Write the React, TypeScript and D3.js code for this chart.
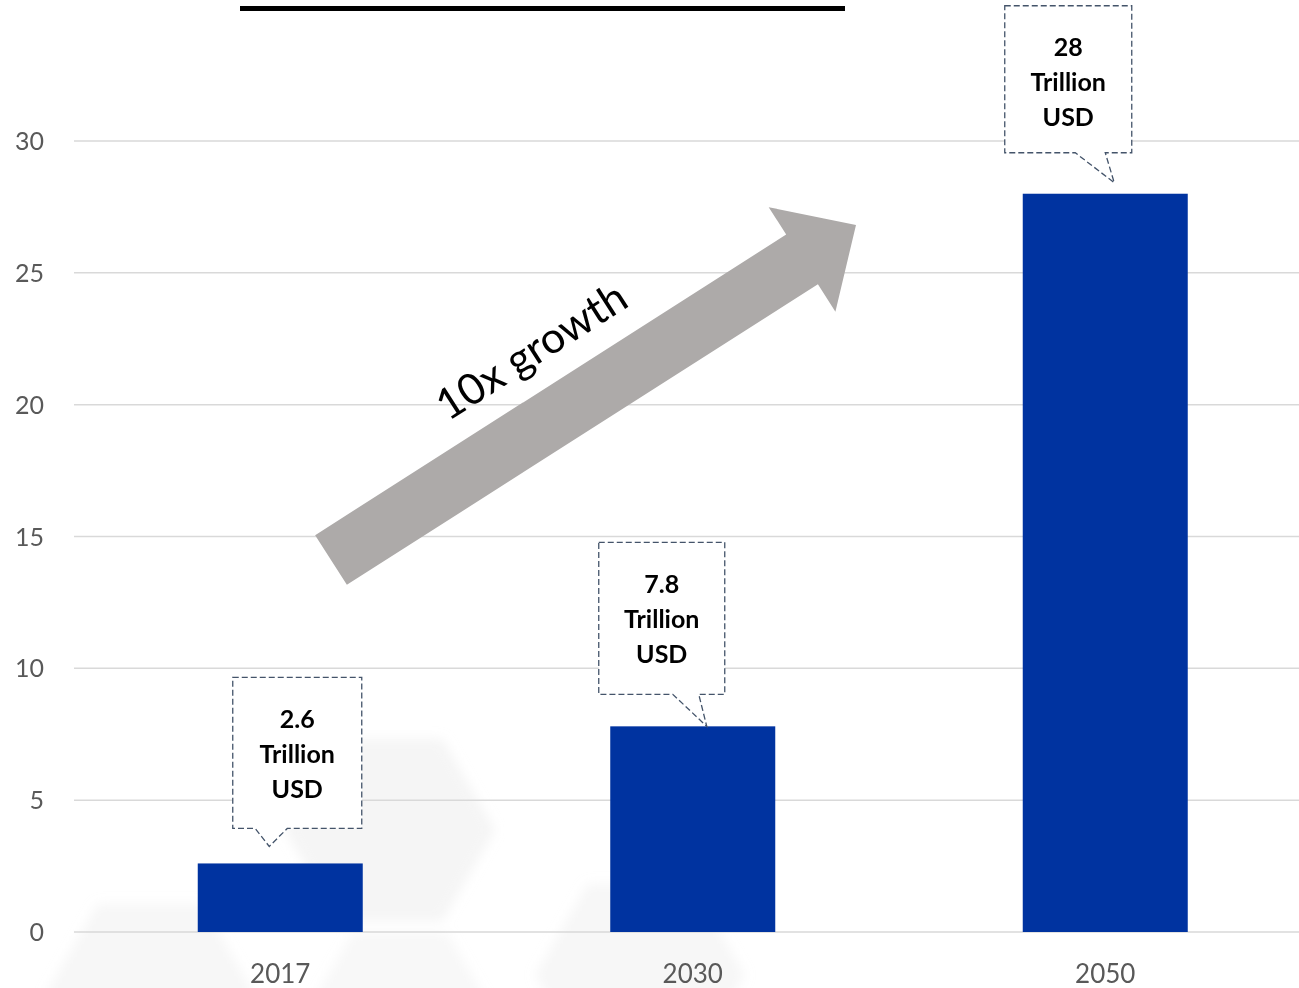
import React, { useEffect } from 'react';
import * as d3 from 'd3';

const years = ['2017', '2030', '2050'];
const values = [2.6, 7.8, 28];
const calloutLines = [
  ['2.6', 'Trillion', 'USD'],
  ['7.8', 'Trillion', 'USD'],
  ['28', 'Trillion', 'USD'],
];
const yTicks = [0, 5, 10, 15, 20, 25, 30];
const arrowLabel = '10x growth';

// callout box offsets relative to bar center / bar top (pixels)
const calloutLayout = [
  { dx: 17, boxW: 129, boxH: 151, gap: 35, tipDx: -28, tipDy: 18, baseOff: 14, baseW: 32 },
  { dx: -31, boxW: 126, boxH: 152, gap: 32, tipDx: 45, tipDy: 32, baseOff: 34, baseW: 26 },
  { dx: -37, boxW: 127, boxH: 147, gap: 41, tipDx: 46, tipDy: 30, baseOff: 39, baseW: 30 },
];

const W = 1299;
const H = 988;
const font = 'Lato, "Open Sans", sans-serif';

export default function App() {
  useEffect(() => {
    document.body.style.margin = '0';
  }, []);

  const x = d3.scaleBand<string>().domain(years).range([74, 1311.5]).paddingInner(0.6).paddingOuter(0.3);
  const y = d3.scaleLinear().domain([0, 30]).range([932, 141]);

  // arrow geometry
  const tail = [331, 560];
  const tip = [856, 225];
  const ang = Math.atan2(tip[1] - tail[1], tip[0] - tail[0]);
  const len = Math.hypot(tip[0] - tail[0], tip[1] - tail[1]);
  const shaftW = 59;
  const headW = 124;
  const headL = 64;
  const arrowPath = d3.path();
  arrowPath.moveTo(0, -shaftW / 2);
  arrowPath.lineTo(len - headL, -shaftW / 2);
  arrowPath.lineTo(len - headL, -headW / 2);
  arrowPath.lineTo(len, 0);
  arrowPath.lineTo(len - headL, headW / 2);
  arrowPath.lineTo(len - headL, shaftW / 2);
  arrowPath.lineTo(0, shaftW / 2);
  arrowPath.closePath();

  const hex = (cx: number, cy: number, r: number) =>
    d3.range(6).map((i) => {
      const a = (Math.PI / 3) * i;
      return [cx + r * Math.cos(a), cy + r * Math.sin(a)];
    });

  const hexes = [
    { cx: 390, cy: 830, r: 105, o: 0.35 },
    { cx: 640, cy: 975, r: 105, o: 0.3 },
    { cx: 150, cy: 995, r: 105, o: 0.3 },
    { cx: 400, cy: 1015, r: 95, o: 0.25 },
  ];

  return (
    <svg width={W} height={H} style={{ position: 'absolute', left: 0, top: 0, background: '#fff' }}>
      <defs>
        <filter id="blur" x="-30%" y="-30%" width="160%" height="160%">
          <feGaussianBlur stdDeviation="6" />
        </filter>
        <clipPath id="clip">
          <rect x={0} y={0} width={W} height={H} />
        </clipPath>
      </defs>

      {/* faint background hexagons */}
      <g filter="url(#blur)">
        {hexes.map((h, i) => (
          <polygon
            key={i}
            points={hex(h.cx, h.cy, h.r).map((p) => p.join(',')).join(' ')}
            fill="#e3e3e3"
            opacity={h.o}
          />
        ))}
      </g>

      {/* title underline (title text cropped out) */}
      <line x1={240} x2={845} y1={8.5} y2={8.5} stroke="#000" strokeWidth={5} />

      {/* grid + y labels */}
      {yTicks.map((t) => (
        <g key={t}>
          <line x1={74} x2={W} y1={y(t)} y2={y(t)} stroke="#d9d9d9" strokeWidth={1.5} />
          <text
            x={44}
            y={y(t)}
            dy="0.36em"
            textAnchor="end"
            fontFamily={font}
            fontSize={25}
            fill="#595959"
          >
            {t}
          </text>
        </g>
      ))}

      {/* bars */}
      <g clipPath="url(#clip)">
        {years.map((yr, i) => (
          <rect
            key={yr}
            x={x(yr)}
            y={y(values[i])}
            width={x.bandwidth()}
            height={y(0) - y(values[i])}
            fill="#0033a0"
          />
        ))}
      </g>

      {/* x labels */}
      {years.map((yr) => (
        <text
          key={yr}
          x={(x(yr) as number) + x.bandwidth() / 2}
          y={983}
          textAnchor="middle"
          fontFamily={font}
          fontSize={26}
          fill="#595959"
        >
          {yr}
        </text>
      ))}

      {/* growth arrow */}
      <g transform={`translate(${tail[0]},${tail[1]}) rotate(${(ang * 180) / Math.PI})`}>
        <path d={arrowPath.toString()} fill="#adaaa9" />
        <text
          x={len * 0.5 - 30}
          y={-shaftW / 2 - 24}
          textAnchor="middle"
          fontFamily={font}
          fontSize={43}
          fill="#000"
        >
          {arrowLabel}
        </text>
      </g>

      {/* callouts */}
      {years.map((yr, i) => {
        const L = calloutLayout[i];
        const cx = (x(yr) as number) + x.bandwidth() / 2 + L.dx;
        const top = y(values[i]);
        const bottom = top - L.gap;
        const x0 = cx - L.boxW / 2;
        const x1 = cx + L.boxW / 2;
        const y0 = bottom - L.boxH;
        const tipX = cx + L.tipDx;
        const tipY = bottom + L.tipDy;
        const baseL = tipX - L.baseOff;
        const baseR = baseL + L.baseW;
        const p = d3.path();
        p.moveTo(x0, y0);
        p.lineTo(x1, y0);
        p.lineTo(x1, bottom);
        p.lineTo(baseR, bottom);
        p.lineTo(tipX, tipY);
        p.lineTo(baseL, bottom);
        p.lineTo(x0, bottom);
        p.closePath();
        return (
          <g key={yr}>
            <path d={p.toString()} fill="#fff" stroke="#44546a" strokeWidth={1.3} strokeDasharray="6,3" />
            {calloutLines[i].map((ln, j) => (
              <text
                key={j}
                x={cx}
                y={y0 + 42 + j * 35}
                dy="0.35em"
                textAnchor="middle"
                fontFamily={font}
                fontWeight="bold"
                fontSize={25}
                fill="#000"
              >
                {ln}
              </text>
            ))}
          </g>
        );
      })}
    </svg>
  );
}
